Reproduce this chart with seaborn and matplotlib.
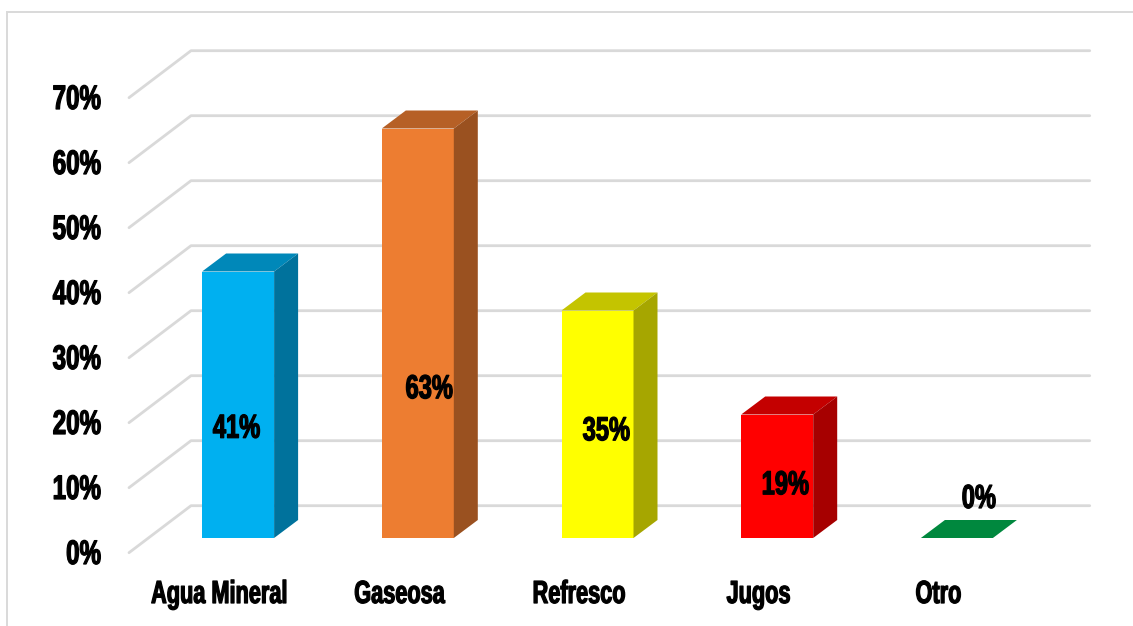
import numpy as np
import pandas as pd
import seaborn as sns
import matplotlib
matplotlib.use("Agg")
import matplotlib.pyplot as plt
from matplotlib.lines import Line2D
from matplotlib.patches import Polygon, Rectangle
from matplotlib.patheffects import AbstractPathEffect
from matplotlib.transforms import Affine2D, IdentityTransform

bebidas = ["Agua Mineral", "Gaseosa", "Refresco", "Jugos", "Otro"]
porcentajes = [41, 63, 35, 19, 0]
colores = ["#00B0F0", "#ED7D31", "#FFFF00", "#FF0000", "#00B050"]
ticks = [0, 10, 20, 30, 40, 50, 60, 70]

W, H = 1133, 626
sns.set_theme(style="white")
plt.rcParams["font.family"] = ["Liberation Sans", "DejaVu Sans"]
plt.rcParams["font.weight"] = "bold"


# no hay fuente condensada instalada: se estrecha el texto al dibujarlo
class Estrecho(AbstractPathEffect):
    def __init__(self, fx=0.71, ancla=0.5, grosor=0.9):
        super().__init__()
        self.fx, self.ancla, self.grosor = fx, ancla, grosor

    def draw_path(self, renderer, gc, tpath, affine, rgbFace=None):
        caja = tpath.get_extents(affine)
        x = caja.x0 + self.ancla * caja.width
        af = affine + Affine2D().translate(-x, 0).scale(self.fx, 1).translate(x, 0)
        gc0 = renderer.new_gc()
        gc0.copy_properties(gc)
        gc0.set_linewidth(self.grosor)
        gc0.set_foreground("black")
        renderer.draw_path(gc0, tpath, af, rgbFace)
        gc0.restore()


fig = plt.figure(figsize=(W / 100, H / 100), dpi=100)
ax = fig.add_axes([148.25 / W, (H - 538) / H, 898.5 / W, 455 / H])

df = pd.DataFrame({"bebida": bebidas, "pct": porcentajes})
sns.barplot(data=df, x="bebida", y="pct", hue="bebida", palette=colores, saturation=1,
            width=72 / 179.7, legend=False, ax=ax, zorder=3, linewidth=0)
ax.set_xlim(-0.5, 4.5)
ax.set_ylim(0, 70)
ax.set_xlabel("")
ax.set_ylabel("")
sns.despine(ax=ax, left=True, bottom=True)
ax.patch.set_alpha(0)
barras = list(ax.patches)

# marco exterior
fig.add_artist(Rectangle((7.2 / W, -0.02), 1.2, (H - 11.7) / H + 0.02, transform=fig.transFigure,
                         fill=False, ec="#D9D9D9", lw=1.4))

# paredes 3D: piso frontal y linea de fondo en pixeles
grid = "#D9D9D9"
def px(x, y):
    return ax.transData.transform((x, y))

for v in ticks:
    p = px(-0.5, v)
    q = px(4.5, v)
    xs = [p[0] - 19.25, p[0] + 42.75, q[0] + 43]
    ys = [p[1] - 14.7, p[1] + 32.3, q[1] + 32.3]
    ax.add_line(Line2D(xs, ys, transform=IdentityTransform(), color=grid, lw=2,
                       clip_on=False, zorder=1))

# caras lateral y superior de cada barra
def tono(c, f):
    return tuple(np.array(matplotlib.colors.to_rgb(c)) * f)

dx, dy = 24, 18
for bar, c in zip(barras, colores):
    x0, y0 = px(bar.get_x(), 0)
    x1, y1 = px(bar.get_x() + bar.get_width(), bar.get_height())
    top = Polygon([(x0, y1), (x1, y1), (x1 + dx, y1 + dy), (x0 + dx, y1 + dy)],
                  transform=IdentityTransform(), fc=tono(c, 0.77), ec="none", clip_on=False, zorder=4)
    ax.add_patch(top)
    if y1 > y0:
        side = Polygon([(x1, y0), (x1 + dx, y0 + dy), (x1 + dx, y1 + dy), (x1, y1)],
                       transform=IdentityTransform(), fc=tono(c, 0.65), ec="none", clip_on=False, zorder=4)
        ax.add_patch(side)

# etiquetas de valor, movidas a mano como en el original
desp_x = [-1.5, 11.5, 9, 8, 22]
desp_y = [-24.5, -56.5, -7.5, -9.5, 38.5]
for i, bar in enumerate(barras):
    ax.annotate(f"{porcentajes[i]}%", (bar.get_x() + bar.get_width() / 2, bar.get_height() / 2),
                xytext=(desp_x[i], desp_y[i]), textcoords="offset pixels",
                ha="center", va="center", fontsize=24, fontweight="bold", color="black", zorder=6,
                path_effects=[Estrecho()])

# las marcas de los ejes van alineadas con el piso frontal
for v in ticks:
    p = px(-0.5, v)
    ax.annotate(f"{v}%", (p[0] - 47, p[1] - 17.5), xycoords=IdentityTransform(), ha="right", va="center",
                fontsize=24.5, fontweight="bold", color="black", annotation_clip=False,
                path_effects=[Estrecho(ancla=1)])
for i, nombre in enumerate(bebidas):
    p = px(i, 0)
    ax.annotate(nombre, (p[0] - 18.5, p[1] - 57), xycoords=IdentityTransform(), ha="center", va="center",
                fontsize=23, fontweight="bold", color="black", annotation_clip=False,
                path_effects=[Estrecho(fx=0.68)])
ax.set_xticks([])
ax.set_yticks([])

fig.savefig("out.png", dpi=100)
